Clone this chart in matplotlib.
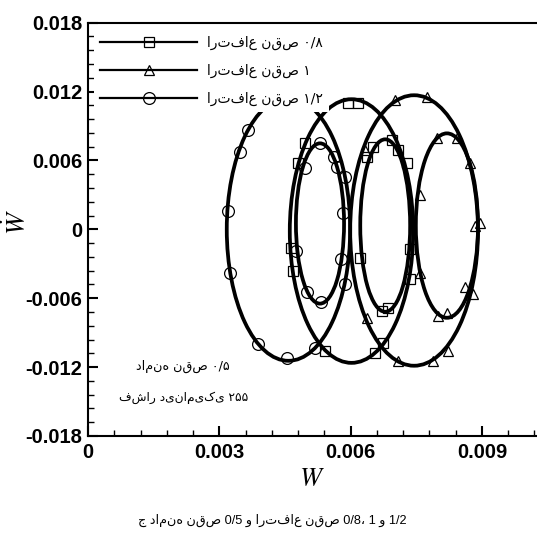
import matplotlib

matplotlib.use("Agg")
import matplotlib.pyplot as plt
from matplotlib.patches import Ellipse
from matplotlib.ticker import MultipleLocator, FuncFormatter

plt.rcParams["mathtext.fontset"] = "stix"

# loops: centre W, centre W-dot, half width, half height
sq_cx = [0.00602, 0.00679]
sq_cy = [-0.00015, 0.00033]
sq_a = [0.00141, 0.00057]
sq_b = [0.01148, 0.00751]

tri_cx = [0.00745, 0.00820]
tri_cy = [-0.00010, 0.00033]
tri_a = [0.00146, 0.00071]
tri_b = [0.01178, 0.00803]

cir_cx = [0.00458, 0.00530]
cir_cy = [0.00000, 0.00051]
cir_a = [0.00141, 0.00055]
cir_b = [0.01145, 0.00698]

# marker positions
sq_w = [0.00594, 0.00617, 0.00496, 0.00480, 0.00464, 0.00468, 0.00542, 0.00656,
        0.00674, 0.00622, 0.00736, 0.00736, 0.00672, 0.00686, 0.00651, 0.00638,
        0.00695, 0.00708, 0.00729]
sq_wd = [0.01098, 0.01098, 0.00749, 0.00574, -0.00159, -0.00360, -0.01058, -0.01075,
         -0.00988, -0.00246, -0.00168, -0.00429, -0.00709, -0.00683, 0.00714, 0.00627,
         0.00775, 0.00688, 0.00574]

tri_w = [0.00701, 0.00775, 0.00873, 0.00633, 0.00638, 0.00708, 0.00788, 0.00823,
         0.00896, 0.00797, 0.00843, 0.00759, 0.00759, 0.00800, 0.00820, 0.00861,
         0.00880, 0.00884]
tri_wd = [0.01124, 0.01150, 0.00574, 0.00688, -0.00775, -0.01145, -0.01145, -0.01058,
          0.00059, 0.00792, 0.00792, 0.00295, -0.00384, -0.00751, -0.00733, -0.00506,
          -0.00559, 0.00033]

cir_w = [0.00366, 0.00347, 0.00320, 0.00324, 0.00388, 0.00455, 0.00519, 0.00587,
         0.00587, 0.00530, 0.00496, 0.00562, 0.00569, 0.00475, 0.00500, 0.00532,
         0.00578, 0.00583]
cir_wd = [0.00862, 0.00670, 0.00164, -0.00377, -0.00997, -0.01119, -0.01032, -0.00473,
          0.00452, 0.00749, 0.00531, 0.00627, 0.00539, -0.00185, -0.00543, -0.00630,
          -0.00255, 0.00138]

labels = ["ارتفاع نقص ۰/۸", "ارتفاع نقص ۱", "ارتفاع نقص ۱/۲"]
note1 = "دامنه نقص ۰/۵"
note2 = "فشار دینامیکی ۲۵۵"
caption = "ج دامنه نقص 0/5 و ارتفاع نقص 0/8، 1 و 1/2"

fig = plt.figure(figsize=(5.37, 5.40), dpi=100)
ax = fig.add_axes([0.1639, 0.1926, 0.8558, 0.7654])
ax.set_xlim(0, 0.0105)
ax.set_ylim(-0.018, 0.018)

lw = 2.7
series = [
    (sq_cx, sq_cy, sq_a, sq_b, sq_w, sq_wd, "s", 6.5),
    (tri_cx, tri_cy, tri_a, tri_b, tri_w, tri_wd, "^", 7),
    (cir_cx, cir_cy, cir_a, cir_b, cir_w, cir_wd, "o", 8.5),
]
handles = []
for cx, cy, a, b, w, wd, mk, ms in series:
    for i in range(len(cx)):
        ax.add_patch(Ellipse((cx[i], cy[i]), 2 * a[i], 2 * b[i], fill=False,
                             edgecolor="black", lw=lw, zorder=2))
    ax.plot(w, wd, ls="none", marker=mk, ms=ms, mfc="none", mec="black",
            mew=0.9, zorder=3)
    (h,) = ax.plot([], [], "-", color="black", lw=1.6, marker=mk, ms=ms,
                   mfc="none", mec="black", mew=0.9)
    handles.append(h)

leg = ax.legend(handles, labels, loc="upper left", bbox_to_anchor=(0.014, 0.982),
                borderaxespad=0, frameon=True, fancybox=False, framealpha=1,
                edgecolor="none", facecolor="white", borderpad=0.4,
                handlelength=7.0, handletextpad=0.72, labelspacing=1.0,
                prop={"family": "DejaVu Sans", "size": 10})
leg.set_zorder(5)

ax.xaxis.set_major_locator(MultipleLocator(0.003))
ax.xaxis.set_minor_locator(MultipleLocator(0.0006))
ax.yaxis.set_major_locator(MultipleLocator(0.006))
ax.yaxis.set_minor_locator(MultipleLocator(0.0012))
fmt = FuncFormatter(lambda v, p: "0" if abs(v) < 1e-9 else "%.3f" % v)
ax.xaxis.set_major_formatter(fmt)
ax.yaxis.set_major_formatter(fmt)
ax.tick_params(which="both", direction="in", top=False, right=False, width=1.5)
ax.tick_params(which="major", length=7)
ax.tick_params(which="minor", length=4, width=1.0)
ax.tick_params(axis="x", pad=5)
ax.tick_params(axis="y", pad=4)
for lab in ax.get_xticklabels() + ax.get_yticklabels():
    lab.set_fontfamily("Liberation Sans")
    lab.set_fontweight("bold")
    lab.set_fontsize(14.5)
for s in ax.spines.values():
    s.set_linewidth(1.5)

fig.text(0.580, 0.113, "$W$", fontsize=19, ha="center", va="center")
fig.text(0.034, 0.589, r"$\dot{W}$", fontsize=19, ha="center", va="center",
         rotation=90)

fig.text(0.341, 0.322, note1, fontsize=9.2, family="DejaVu Sans", ha="center", va="center")
fig.text(0.342, 0.263, note2, fontsize=8.8, family="DejaVu Sans", ha="center", va="center")
fig.text(0.508, 0.036, caption, fontsize=9.2, family=["Liberation Sans", "DejaVu Sans"],
         ha="center", va="center")

fig.savefig("out.png", dpi=100)
